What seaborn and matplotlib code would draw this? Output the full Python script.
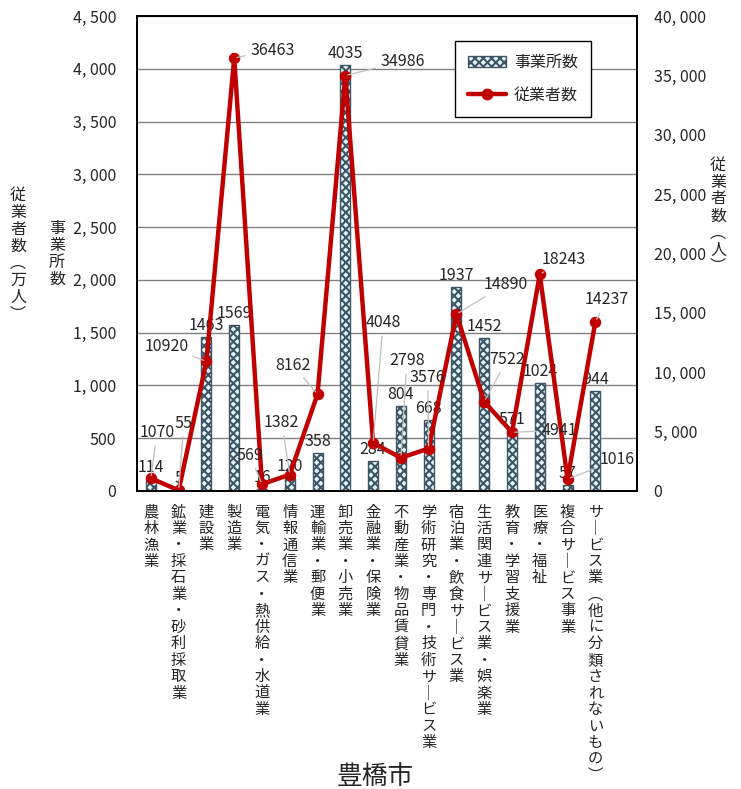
import numpy as np
import seaborn as sns
from matplotlib import pyplot as plt
from matplotlib.patches import Patch
from matplotlib.lines import Line2D

categories = ["農林漁業", "鉱業・採石業・砂利採取業", "建設業", "製造業",
              "電気・ガス・熱供給・水道業", "情報通信業", "運輸業・郵便業",
              "卸売業・小売業", "金融業・保険業", "不動産業・物品賃貸業",
              "学術研究・専門・技術サービス業", "宿泊業・飲食サービス業",
              "生活関連サービス業・娯楽業", "教育・学習支援業", "医療・福祉",
              "複合サービス事業", "サービス業(他に分類されないもの)"]
offices = [114, 5, 1463, 1569, 16, 120, 358, 4035, 284, 804, 668,
           1937, 1452, 571, 1024, 57, 944]
employees = [1070, 55, 10920, 36463, 569, 1382, 8162, 34986, 4048, 2798,
             3576, 14890, 7522, 4941, 18243, 1016, 14237]
# label offsets in pixels for the employee numbers (dx, dy)
emp_offsets = [(6, 46), (5, 67), (-40, 15), (38, 8), (-12, 29), (-8, 52),
               (-25, 29), (57, 14), (10, 120), (6, 97), (-1, 71), (49, 30),
               (23, 42), (47, 2), (24, 15), (50, 19), (11, 22)]

BAR_FACE = "#e2f5f7"
BAR_EDGE = "#3e5566"
LINE_RED = "#c00000"
FS = 11.5


def vertical(s):
    s = s.replace("ー", "｜").replace("(", "︵").replace(")", "︶")
    return "\n".join(s)


def fmt(v):
    return f"{v:,}".replace(",", ", ")


def main():
    sns.set_style("white")
    plt.rcParams['font.family'] = ['Noto Sans CJK JP', 'DejaVu Sans']
    plt.rcParams['hatch.linewidth'] = 1.5

    fig = plt.figure(figsize=(7.41, 7.89), dpi=100)
    ax = fig.add_axes([137 / 741, 1 - 491 / 789, 500 / 741, 475 / 789])

    sns.barplot(x=categories, y=offices, ax=ax, color=BAR_FACE, width=0.36,
                edgecolor=BAR_EDGE, linewidth=1.0, zorder=2)
    for p in ax.patches:
        p.set_hatch("xxxx")
        p.set_facecolor(BAR_FACE)
        p.set_edgecolor(BAR_EDGE)

    ax.set_ylim(0, 4500)
    ax.set_yticks(np.arange(0, 4501, 500))
    ax.set_yticklabels([fmt(v) for v in range(0, 4501, 500)], fontsize=FS)
    ax.yaxis.grid(True, color="#808080", lw=1.0, zorder=0)
    ax.set_axisbelow(True)
    ax.tick_params(axis="y", length=0, pad=15)
    ax.tick_params(axis="x", length=0, pad=9)
    ax.set_xticks(range(len(categories)))
    ax.set_xticklabels([vertical(c) for c in categories], fontsize=11,
                       va="top", ha="center", linespacing=0.96)
    ax.set_xlabel("")
    ax.set_ylabel("")

    for i, v in enumerate(offices):
        ax.annotate(str(v), (i, v), xytext=(0, 3), textcoords="offset pixels",
                    ha="center", va="bottom", fontsize=FS, zorder=5)

    ax2 = ax.twinx()
    sns.lineplot(x=np.arange(len(employees)), y=employees, ax=ax2,
                 color=LINE_RED, lw=3.2, marker="o", markersize=7.5,
                 markeredgecolor=LINE_RED)
    ax2.set_ylim(0, 40000)
    ax2.set_yticks(np.arange(0, 40001, 5000))
    ax2.set_yticklabels([fmt(v) for v in range(0, 40001, 5000)], fontsize=FS)
    ax2.tick_params(axis="y", length=0, pad=12)
    ax2.set_ylabel("")

    for i, v in enumerate(employees):
        dx, dy = emp_offsets[i]
        ax2.annotate(str(v), (i, v), xytext=(dx, dy), textcoords="offset pixels",
                     ha="center", va="center", fontsize=FS,
                     arrowprops=dict(arrowstyle="-", color="#bfbfbf", lw=0.9,
                                     shrinkA=1, shrinkB=2))

    ax.set_xlim(-0.5, 17.5)
    for a in (ax, ax2):
        for sp in a.spines.values():
            sp.set_color("black")
            sp.set_linewidth(1.3)

    handles = [Patch(facecolor=BAR_FACE, edgecolor=BAR_EDGE, hatch="xxxx"),
               Line2D([], [], color=LINE_RED, lw=3.2, marker="o", markersize=7.5)]
    leg = ax2.legend(handles, ["事業所数", "従業者数"], loc="upper left",
                     bbox_to_anchor=(455 / 741, 1 - 41 / 789),
                     bbox_transform=fig.transFigure, fontsize=FS,
                     frameon=True, fancybox=False, edgecolor="black",
                     framealpha=1, labelspacing=1.0, borderpad=0.8,
                     borderaxespad=0, handlelength=2.4, handletextpad=0.5)
    leg.get_frame().set_linewidth(1.0)

    fig.text(18 / 741, 1 - 255 / 789, vertical("従業者数(万人)"), fontsize=FS,
             ha="center", va="center", linespacing=1.0)
    fig.text(57 / 741, 1 - 254 / 789, vertical("事業所数"), fontsize=FS,
             ha="center", va="center", linespacing=1.0)
    fig.text(718 / 741, 1 - 216 / 789, vertical("従業者数(人)"), fontsize=FS,
             ha="center", va="center", linespacing=1.0)
    fig.text(375 / 741, 1 - 777 / 789, "豊橋市", fontsize=18.5,
             ha="center", va="center")

    fig.savefig("out.png", dpi=100)
    return 0


if __name__ == '__main__':
    raise SystemExit(main())
